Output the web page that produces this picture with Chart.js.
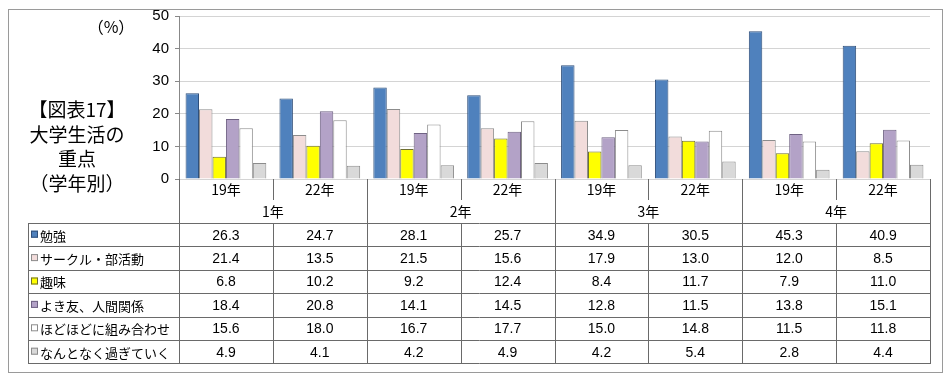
<!DOCTYPE html>
<html>
<head>
<meta charset="utf-8">
<script src="https://cdn.jsdelivr.net/npm/chart.js@4"></script>
<style>
  html, body { margin: 0; padding: 0; background: #fff; }
  #wrap { width: 950px; height: 388px; position: relative; }
</style>
</head>
<body>
<div id="wrap"><canvas id="chartFocus" width="950" height="388"></canvas></div>
<script>
// ── Data ──
const grades     = ['1年', '2年', '3年', '4年'];
const categories = ['19年', '22年', '19年', '22年', '19年', '22年', '19年', '22年'];
const yTicks     = [0, 10, 20, 30, 40, 50];

const seriesNames = ['勉強', 'サークル・部活動', '趣味', 'よき友、人間関係', 'ほどほどに組み合わせ', 'なんとなく過ぎていく'];
const study    = [26.3, 24.7, 28.1, 25.7, 34.9, 30.5, 45.3, 40.9];
const circle   = [21.4, 13.5, 21.5, 15.6, 17.9, 13.0, 12.0, 8.5];
const hobby    = [6.8, 10.2, 9.2, 12.4, 8.4, 11.7, 7.9, 11.0];
const friends  = [18.4, 20.8, 14.1, 14.5, 12.8, 11.5, 13.8, 15.1];
const balanced = [15.6, 18.0, 16.7, 17.7, 15.0, 14.8, 11.5, 11.8];
const drifting = [4.9, 4.1, 4.2, 4.9, 4.2, 5.4, 2.8, 4.4];

const seriesData   = [study, circle, hobby, friends, balanced, drifting];
const fillColors   = ['#4F81BD', '#F2DCDB', '#FFFF00', '#B3A2C7', '#FFFFFF', '#D9D9D9'];
const borderColors = ['#2F4F7A', '#8C8C8C', '#6E6E30', '#6F6283', '#8C8C8C', '#8C8C8C'];

const titleLines = ['【図表17】', '大学生活の', '重点', '（学年別）'];

const JP  = '"Noto Sans CJK JP", "Noto Sans", sans-serif';
const NUM = '"Liberation Sans", Arial, sans-serif';

// ── Table + titles drawn from the x scale ──
const tablePlugin = {
  id: 'tablePlugin',
  afterDraw(chart) {
    const ctx = chart.ctx;
    const xs  = chart.scales.x;
    const ca  = chart.chartArea;
    const n   = categories.length;
    const cw  = (ca.right - ca.left) / n;
    const edge = i => xs.getPixelForValue(0) - cw / 2 + i * cw;

    const hdr1Bot  = ca.bottom + 21;
    const tableTop = ca.bottom + 44;
    const rowH     = 23.4;
    const tableBot = tableTop + rowH * seriesNames.length;
    const tableLeft = 28;

    ctx.save();
    // outer frame
    ctx.strokeStyle = '#9a9a9a';
    ctx.lineWidth = 1;
    ctx.strokeRect(8.5, 9.5, 934, 363);

    // titles
    ctx.fillStyle = '#000';
    ctx.textAlign = 'center';
    ctx.textBaseline = 'middle';
    ctx.font = '19px ' + JP;
    titleLines.forEach((t, i) => ctx.fillText(t, 77, 110 + i * 24.5));
    ctx.font = '16px ' + JP;
    ctx.fillText('（%）', 111, 27);

    // table lines
    ctx.strokeStyle = '#6a6a6a';
    ctx.lineWidth = 1;
    const vline = (x, y0, y1) => { ctx.beginPath(); ctx.moveTo(Math.round(x) + .5, y0); ctx.lineTo(Math.round(x) + .5, y1); ctx.stroke(); };
    const hline = (x0, x1, y) => { ctx.beginPath(); ctx.moveTo(x0, Math.round(y) + .5); ctx.lineTo(x1, Math.round(y) + .5); ctx.stroke(); };

    for (let i = 0; i <= n; i++) {
      vline(edge(i), ca.bottom, hdr1Bot);
      if (i % 2 === 0) vline(edge(i), hdr1Bot, tableTop);
      vline(edge(i), tableTop, tableBot);
    }
    vline(tableLeft, tableTop, tableBot);
    for (let r = 0; r <= seriesNames.length; r++) hline(tableLeft, edge(n) + 1, tableTop + r * rowH);

    // header labels
    ctx.font = '14px ' + JP;
    ctx.fillStyle = '#000';
    categories.forEach((c, i) => ctx.fillText(c, xs.getPixelForValue(i), ca.bottom + 11));
    grades.forEach((g, gi) => ctx.fillText(g, (edge(gi * 2) + edge(gi * 2 + 2)) / 2, hdr1Bot + 12));

    // rows
    seriesNames.forEach((name, r) => {
      const cy = tableTop + r * rowH + rowH / 2;
      ctx.fillStyle = fillColors[r];
      ctx.fillRect(31, cy - 4, 7, 7);
      ctx.strokeStyle = borderColors[r];
      ctx.strokeRect(31.5, cy - 3.5, 6, 6);
      ctx.fillStyle = '#000';
      ctx.textAlign = 'left';
      ctx.font = '13px ' + JP;
      ctx.fillText(name, 40, cy + 1);
      ctx.textAlign = 'center';
      ctx.font = '14px ' + NUM;
      seriesData[r].forEach((v, i) => ctx.fillText(v.toFixed(1), xs.getPixelForValue(i), cy + 1));
    });
    ctx.restore();
  }
};

// ── Chart ──
const chartFocus = new Chart(document.getElementById('chartFocus').getContext('2d'), {
  type: 'bar',
  data: {
    labels: categories,
    datasets: seriesNames.map((name, i) => ({
      label: name,
      data: seriesData[i],
      backgroundColor: fillColors[i],
      borderColor: borderColors[i],
      borderWidth: 1,
      borderSkipped: 'bottom',
      categoryPercentage: 0.86,
      barPercentage: 1.0,
    }))
  },
  options: {
    responsive: false,
    animation: false,
    devicePixelRatio: 1,
    layout: { padding: { left: 139, right: 20, top: 16, bottom: 209 } },
    plugins: { legend: { display: false }, tooltip: { enabled: false } },
    scales: {
      x: { display: false },
      y: {
        min: 0, max: 50,
        afterFit(scale) { scale.width = 40; },
        afterBuildTicks(scale) { scale.ticks = yTicks.map(v => ({ value: v })); },
        grid: { color: '#d4d4d4', tickLength: 4, tickColor: '#888' },
        border: { color: '#888' },
        ticks: { color: '#000', padding: 6, font: { size: 15, family: NUM } }
      }
    }
  },
  plugins: [tablePlugin]
});
</script>
</body>
</html>
